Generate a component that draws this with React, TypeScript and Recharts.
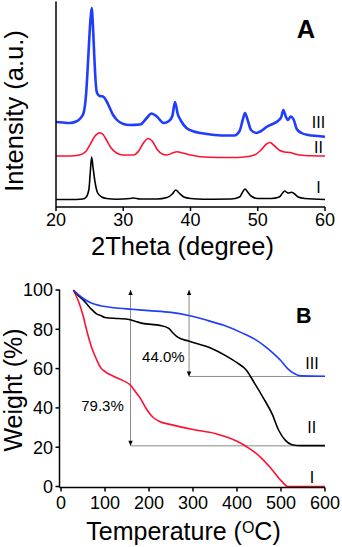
import React from 'react';
import { LineChart, Line, XAxis, YAxis, ReferenceLine, ReferenceDot } from 'recharts';

const FONT = '"Liberation Sans", Arial, Helvetica, sans-serif';

// ---------- Panel A: XRD ----------
const thetaI = [20, 22, 24, 24.5, 24.9, 25.1, 25.3, 25.5, 25.8, 26.2, 26.8, 27.5, 29, 31, 31.5, 32.5, 35, 36.5, 37.3, 37.8, 38.3, 39, 40, 42, 46, 47.3, 47.8, 48.1, 48.5, 49.1, 50, 52, 53.2, 53.7, 54, 54.5, 55, 55.4, 56, 57, 60];
const intensityI = [7.5, 7.5, 8, 10, 18, 35, 50, 40, 25, 14, 10, 8.5, 7.8, 8.5, 9, 8, 8, 9.5, 13, 17, 14, 10, 8.5, 7.8, 8, 10, 15.5, 18, 15, 10.5, 8.5, 8.5, 10, 14, 16, 14, 14.7, 13.5, 10, 8.5, 7.5];

const thetaII = [20, 22, 23.5, 24.5, 25.2, 25.8, 26.5, 27, 27.5, 28.2, 29, 30, 31.5, 32.3, 33, 33.7, 34.3, 35, 35.8, 36.5, 37.5, 38, 38.8, 40, 42, 46, 48, 49.5, 50.5, 51.3, 51.8, 52.5, 53.3, 54, 54.8, 55.5, 57, 60];
const intensityII = [51, 51, 52, 56, 64, 71, 74.3, 72.5, 67, 59, 54, 52, 52, 56, 64, 68.5, 66, 58, 53, 52, 54.5, 55.3, 54, 52, 50, 49.5, 50, 52, 57, 63, 64.5, 61, 56.5, 55, 54.5, 53, 51.5, 51];

const thetaIII = [20, 21, 22, 23, 23.6, 24.1, 24.5, 24.8, 25.1, 25.3, 25.5, 25.7, 25.9, 26.1, 26.5, 27, 27.5, 28, 28.5, 29, 30, 31, 32.5, 33.5, 34.2, 35, 36, 36.8, 37.3, 37.7, 38.1, 38.6, 39.4, 40.5, 41.5, 43, 45, 46.5, 47.3, 47.8, 48.1, 48.5, 49, 49.8, 50.5, 51.3, 52.2, 53, 53.5, 53.8, 54.2, 54.5, 54.9, 55.3, 55.8, 56.5, 57.5, 59, 60];
const intensityIII = [85, 84.5, 84, 85.5, 88.5, 94, 115, 150, 185, 199, 180, 150, 125, 114, 111, 110.5, 106, 99, 92, 87.5, 83, 82, 82.5, 89, 93.5, 90.5, 84, 86, 91, 105, 93, 86, 79, 75.5, 74, 72.5, 71.5, 71.5, 76, 88, 94, 87, 77, 74, 76, 80, 83, 86, 90, 97, 90, 87, 90.5, 88, 78, 74, 72, 71, 70.3];

const thetaTicks = [20, 30, 40, 50, 60];
const xrdLabels = ['A', 'III', 'II', 'I'];
const xrdLabelTheta = [57.17, 59.03, 59.03, 59.03];
const xrdLabelY = [169, 79.5, 54.5, 14];

// ---------- Panel B: TGA ----------
const tempI = [28, 40, 50, 60, 70, 80, 90, 100, 120, 140, 158, 170, 180, 190, 200, 210, 225, 250, 300, 350, 375, 400, 425, 450, 475, 500, 516, 600];
const weightI = [100, 94, 87, 78, 70.5, 65, 60.5, 58.5, 56, 54, 51.5, 48, 45, 41, 37.5, 35, 33, 31.5, 29, 27, 25.3, 23, 19.8, 15.6, 9.8, 3, 0, 0];

const tempII = [28, 40, 50, 60, 70, 80, 90, 100, 130, 155, 170, 185, 225, 245, 255, 265, 290, 340, 375, 400, 420, 440, 460, 480, 495, 510, 525, 545, 600];
const weightII = [100, 97, 95, 92.5, 90, 88, 87, 86, 85.5, 85, 84, 83, 82, 80.5, 78, 76, 74, 70.5, 66.5, 63, 59.5, 52.5, 45, 36.8, 28.5, 23.5, 21.3, 20.8, 20.8];

const tempIII = [28, 50, 70, 90, 120, 160, 200, 250, 290, 330, 370, 410, 440, 460, 480, 500, 515, 530, 545, 600];
const weightIII = [100, 95.8, 93.2, 92, 91, 90.2, 89.5, 88.6, 87, 84.7, 82, 78.3, 75, 72, 68.3, 64, 60, 57.5, 56.3, 56.1];

const tempTicks = [0, 100, 200, 300, 400, 500, 600];
const weightTicks = [0, 20, 40, 60, 80, 100];

// weight-loss annotations
const lossLabels = ['79.3%', '44.0%'];
const lossTemp = [158, 291];
const lossResidue = [20.7, 56];
const lossLabelTemp = [94.3, 232.5];
const lossLabelWeight = [38.2, 63.6];

const tgaLabels = ['B', 'III', 'II', 'I'];
const tgaLabelTemp = [552, 570.5, 570, 570.5];
const tgaLabelWeight = [83.2, 59.8, 27.3, 1.8];

const zip = (xs: number[], ys: number[]) => xs.map((x, i) => ({ x, y: ys[i] }));

const BLUE = '#1f3cff';
const RED = '#ff1030';
const GRAY = '#8a8a8a';

const textLabel = (text: string, size: number, weight: string = 'normal') => (props: any) => {
  const vb = props.viewBox || {};
  const cx = (vb.x ?? 0) + (vb.width ?? 0) / 2;
  const cy = (vb.y ?? 0) + (vb.height ?? 0) / 2;
  return (
    <text x={cx} y={cy} textAnchor="middle" fontSize={size} fontWeight={weight} fontFamily={FONT} fill="#000">
      {text}
    </text>
  );
};

const ArrowLine = (props: any) => {
  const { x1, y1, x2, y2 } = props;
  const top = Math.min(y1, y2);
  const bot = Math.max(y1, y2);
  const x = x1;
  return (
    <g>
      <line x1={x} y1={top} x2={x} y2={bot} stroke={GRAY} strokeWidth={1} />
      <path d={`M${x},${top} L${x - 2.2},${top + 5} L${x + 2.2},${top + 5} Z`} fill="#000" />
      <path d={`M${x},${bot} L${x - 2.2},${bot - 5} L${x + 2.2},${bot - 5} Z`} fill="#000" />
    </g>
  );
};

const axisStyle = { stroke: '#000', strokeWidth: 1.5 };
const tickStyle = { fontSize: 18, fill: '#000', fontFamily: FONT };

export default function App() {
  const dI = zip(thetaI, intensityI);
  const dII = zip(thetaII, intensityII);
  const dIII = zip(thetaIII, intensityIII);
  const tI = zip(tempI, weightI);
  const tII = zip(tempII, weightII);
  const tIII = zip(tempIII, weightIII);

  return (
    <div style={{ position: 'absolute', left: 0, top: 0, width: 342, height: 547, background: '#fff' }}>
      <div style={{ position: 'absolute', left: 0, top: 0 }}>
        <LineChart width={342} height={270} margin={{ top: 1.5, right: 17, bottom: 0, left: 0 }}>
          <XAxis
            dataKey="x"
            type="number"
            domain={[20, 60]}
            ticks={thetaTicks}
            allowDataOverflow
            height={63}
            tickSize={4}
            tickMargin={2.5}
            axisLine={axisStyle}
            tickLine={axisStyle}
            tick={tickStyle}
            label={() => (
              <text x={182.5} y={255} textAnchor="middle" fontSize={25.5} fontFamily={FONT} fill="#000">
                2Theta (degree)
              </text>
            )}
          />
          <XAxis xAxisId="top" orientation="top" type="number" domain={[20, 60]} height={0} tick={false} tickLine={false} axisLine={axisStyle} />
          <YAxis
            type="number"
            domain={[0, 205.5]}
            allowDataOverflow
            width={56}
            tick={false}
            tickLine={false}
            axisLine={axisStyle}
            label={() => (
              <text x={23} y={111} transform="rotate(-90 23 111)" textAnchor="middle" fontSize={25.5} fontFamily={FONT} fill="#000">
                Intensity (a.u.)
              </text>
            )}
          />
          <YAxis yAxisId="right" orientation="right" type="number" domain={[0, 205.5]} width={0} tick={false} tickLine={false} axisLine={axisStyle} />
          <Line data={dI} dataKey="y" type="monotone" stroke="#000" strokeWidth={1.6} dot={false} isAnimationActive={false} />
          <Line data={dII} dataKey="y" type="monotone" stroke={RED} strokeWidth={1.6} dot={false} isAnimationActive={false} />
          <Line data={dIII} dataKey="y" type="monotone" stroke={BLUE} strokeWidth={2.6} dot={false} isAnimationActive={false} />
          {xrdLabels.map((t, i) => (
            <ReferenceDot
              key={'xl' + i}
              x={xrdLabelTheta[i]}
              y={xrdLabelY[i]}
              r={1}
              fill="none"
              stroke="none"
              label={textLabel(t, i === 0 ? 25.5 : 16, i === 0 ? 'bold' : 'normal')}
            />
          ))}
        </LineChart>
      </div>
      <div style={{ position: 'absolute', left: 0, top: 270 }}>
        <LineChart width={342} height={277} margin={{ top: 19.5, right: 17, bottom: 0, left: 0 }}>
          <XAxis
            dataKey="x"
            type="number"
            domain={[-3.5, 600]}
            ticks={tempTicks}
            allowDataOverflow
            height={59.5}
            tickSize={4}
            tickMargin={5}
            axisLine={axisStyle}
            tickLine={axisStyle}
            tick={tickStyle}
            label={() => (
              <text x={183.5} y={270} textAnchor="middle" fontSize={25} fontFamily={FONT} fill="#000">
                Temperature (
                <tspan fontSize={16} dy={-7}>O</tspan>
                <tspan dy={7}>C)</tspan>
              </text>
            )}
          />
          <XAxis xAxisId="top" orientation="top" type="number" domain={[-3.5, 600]} height={0} tick={false} tickLine={false} axisLine={axisStyle} />
          <YAxis
            type="number"
            domain={[-0.5, 100.25]}
            ticks={weightTicks}
            allowDataOverflow
            width={59.5}
            tickSize={4}
            tickMargin={2.5}
            axisLine={axisStyle}
            tickLine={axisStyle}
            tick={tickStyle}
            label={() => (
              <text x={21.5} y={120} transform="rotate(-90 21.5 120)" textAnchor="middle" fontSize={25} fontFamily={FONT} fill="#000">
                Weight (%)
              </text>
            )}
          />
          <YAxis yAxisId="right" orientation="right" type="number" domain={[-0.5, 100.25]} width={0} tick={false} tickLine={false} axisLine={axisStyle} />
          {lossTemp.map((t, i) => (
            <ReferenceLine
              key={'h' + i}
              segment={[{ x: t, y: lossResidue[i] }, { x: 600, y: lossResidue[i] }]}
              stroke={GRAY}
              strokeWidth={1}
            />
          ))}
          {lossTemp.map((t, i) => (
            <ReferenceLine
              key={'v' + i}
              segment={[{ x: t, y: 100 }, { x: t, y: lossResidue[i] }]}
              shape={ArrowLine}
            />
          ))}
          <Line data={tI} dataKey="y" type="monotone" stroke={RED} strokeWidth={1.6} dot={false} isAnimationActive={false} />
          <Line data={tII} dataKey="y" type="monotone" stroke="#000" strokeWidth={1.6} dot={false} isAnimationActive={false} />
          <Line data={tIII} dataKey="y" type="monotone" stroke={BLUE} strokeWidth={1.6} dot={false} isAnimationActive={false} />
          {lossLabels.map((t, i) => (
            <ReferenceDot
              key={'ll' + i}
              x={lossLabelTemp[i]}
              y={lossLabelWeight[i]}
              r={1}
              fill="none"
              stroke="none"
              label={textLabel(t, 15)}
            />
          ))}
          {tgaLabels.map((t, i) => (
            <ReferenceDot
              key={'tl' + i}
              x={tgaLabelTemp[i]}
              y={tgaLabelWeight[i]}
              r={1}
              fill="none"
              stroke="none"
              label={textLabel(t, i === 0 ? 21.5 : 16, i === 0 ? 'bold' : 'normal')}
            />
          ))}
        </LineChart>
      </div>
    </div>
  );
}
